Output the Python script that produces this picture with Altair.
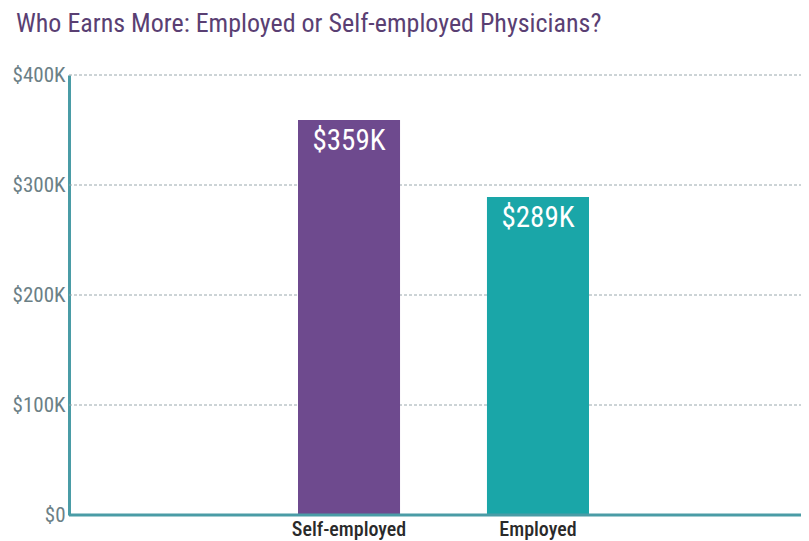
import altair as alt
import pandas as pd

categories = ["Self-employed", "Employed"]
earnings_k = [359, 289]
bar_colors = ["#6e4a8e", "#1aa6a8"]
y_ticks = [0, 100, 200, 300, 400]

df = pd.DataFrame({"cat": categories, "val": earnings_k,
                   "label": ["$" + str(v) + "K" for v in earnings_k]})
grid_df = pd.DataFrame({"v": y_ticks[1:]})
base_df = pd.DataFrame({"v": [0]})

FONT = "Roboto Condensed, Liberation Sans Narrow, Roboto, sans-serif"
AXIS_COLOR = "#4a9ca6"

x = alt.X("cat:N", sort=categories, title=None,
          scale=alt.Scale(paddingInner=0.46, paddingOuter=0, range=[229, 520]),
          axis=alt.Axis(labelAngle=0, ticks=False, domain=False,
                        labelColor="#2a2a2a", labelFontSize=20, labelFont=FONT,
                        labelFontWeight=500, labelPadding=4))
y = alt.Y("val:Q", title=None,
          scale=alt.Scale(domain=[0, 400], nice=False),
          axis=alt.Axis(values=y_ticks, ticks=False, domainColor=AXIS_COLOR, domainWidth=3,
                        labelColor="#6b8086", labelFontSize=21, labelFont=FONT,
                        labelPadding=4, grid=False,
                        labelExpr="datum.value == 0 ? '$0' : '$' + datum.value + 'K'"))

grid = alt.Chart(grid_df).mark_rule(color="#9aa8ad", strokeWidth=1, strokeDash=[3, 2]).encode(
    y=alt.Y("v:Q"), x=alt.value(0), x2=alt.value(732))

bars = alt.Chart(df).mark_bar().encode(
    x=x, y=y,
    color=alt.Color("cat:N", scale=alt.Scale(domain=categories, range=bar_colors), legend=None),
)
text = alt.Chart(df).mark_text(baseline="top", dy=7, color="white", fontSize=29, font=FONT).encode(
    x=alt.X("cat:N", sort=categories), y="val:Q", text="label:N")

baseline_rule = alt.Chart(base_df).mark_rule(
    color=AXIS_COLOR, strokeWidth=3).encode(
    y="v:Q", x=alt.value(0), x2=alt.value(732))

chart = alt.layer(grid, bars, text, baseline_rule).properties(
    width=732, height=440,
    autosize=alt.AutoSizeParams(type="none"),
    padding={"left": 61, "top": 67, "right": 0, "bottom": 26},
    title=alt.TitleParams("Who Earns More: Employed or Self-employed Physicians?",
                          anchor="start", frame="group", dx=-53, color="#5a3f73", fontSize=26,
                          font=FONT, fontWeight="normal", offset=27),
).configure_view(stroke=None)

chart.save("out.html", embed_options={"renderer": "svg", "actions": False})
